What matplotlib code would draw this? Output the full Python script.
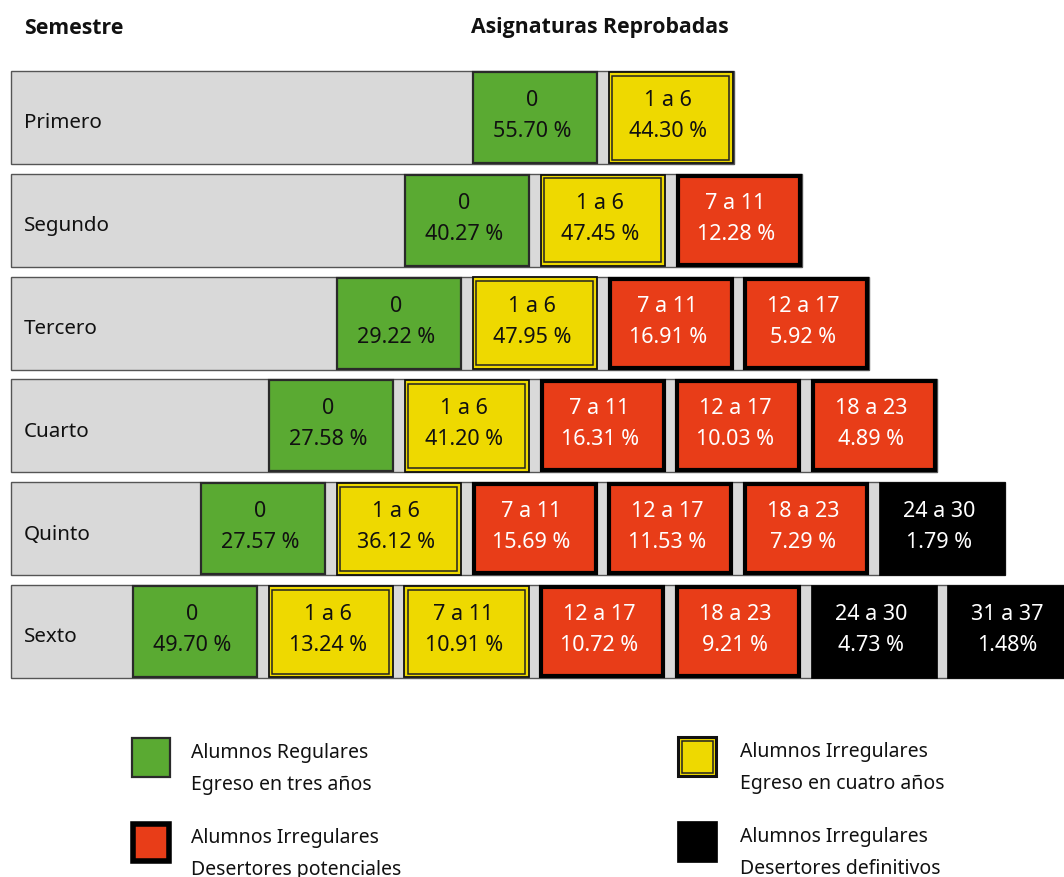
import matplotlib
matplotlib.use("Agg")
import matplotlib.pyplot as plt
from matplotlib.patches import Rectangle

# ---------------- data ----------------
semestres = ["Primero", "Segundo", "Tercero", "Cuarto", "Quinto", "Sexto"]
rangos = ["0", "1 a 6", "7 a 11", "12 a 17", "18 a 23", "24 a 30", "31 a 37"]
porcentajes = [
    [55.70, 44.30],
    [40.27, 47.45, 12.28],
    [29.22, 47.95, 16.91, 5.92],
    [27.58, 41.20, 16.31, 10.03, 4.89],
    [27.57, 36.12, 15.69, 11.53, 7.29, 1.79],
    [49.70, 13.24, 10.91, 10.72, 9.21, 4.73, 1.48],
]
# G = regulares, Y = egreso cuatro años, R = desertores potenciales, K = desertores definitivos
categorias = [
    ["G", "Y"],
    ["G", "Y", "R"],
    ["G", "Y", "R", "R"],
    ["G", "Y", "R", "R", "R"],
    ["G", "Y", "R", "R", "R", "K"],
    ["G", "Y", "Y", "R", "R", "K", "K"],
]
leyenda_cat = ["G", "Y", "R", "K"]
leyenda_txt = [
    ("Alumnos Regulares", "Egreso en tres años"),
    ("Alumnos Irregulares", "Egreso en cuatro años"),
    ("Alumnos Irregulares", "Desertores potenciales"),
    ("Alumnos Irregulares", "Desertores definitivos"),
]

# ---------------- style ----------------
FILL = {"G": "#5aaa32", "Y": "#eed900", "R": "#e83d18", "K": "#000000"}
TXT = {"G": "#111111", "Y": "#111111", "R": "white", "K": "white"}
GREY = "#d9d9d9"
FONT = ["Noto Sans", "DejaVu Sans"]
BFONT = ["Open Sans", "DejaVu Sans"]
FS_LEG = 14.0
FS_ROW = 14.8
FS_BOX = 15.5
FS_HEAD = 15.3

W, H = 1064, 878
fig = plt.figure(figsize=(W / 100, H / 100), dpi=100)
ax = fig.add_axes([0, 0, 1, 1])
ax.set_xlim(0, W)
ax.set_ylim(H, 0)
ax.axis("off")

row_top0, row_pitch, row_h = 72, 102.8, 93
box_w, box_pitch = 126, 135.8
x_grey = 11
x_green0, x_shift = 472, 68


def draw_box(x, y, w, h, cat, thick=3.0, ythick=1.3):
    if cat == "G":
        ax.add_patch(Rectangle((x + 1, y + 1), w - 2, h - 2, facecolor=FILL[cat],
                               edgecolor="#2a2a2a", lw=1.6, zorder=3))
    elif cat == "Y":
        ax.add_patch(Rectangle((x + 0.7, y + 0.7), w - 1.4, h - 1.4, facecolor=FILL[cat],
                               edgecolor="#111111", lw=ythick, zorder=3))
        ax.add_patch(Rectangle((x + 4.5, y + 4.5), w - 9, h - 9, facecolor="none",
                               edgecolor="#222222", lw=1.1, zorder=4))
    elif cat == "R":
        ax.add_patch(Rectangle((x + 2, y + 2), w - 4, h - 4, facecolor=FILL[cat],
                               edgecolor="black", lw=thick, zorder=3))
    else:
        ax.add_patch(Rectangle((x, y), w, h, facecolor=FILL[cat],
                               edgecolor="black", lw=0.5, zorder=3))


for i, (sem, vals, cats) in enumerate(zip(semestres, porcentajes, categorias)):
    top = row_top0 + i * row_pitch
    x0 = x_green0 - i * x_shift
    n = len(vals)
    x_end = min(x0 + (n - 1) * box_pitch + box_w, W + 20)
    ax.add_patch(Rectangle((x_grey, top), x_end - x_grey, row_h, facecolor=GREY,
                           edgecolor="#555555", lw=1.0, zorder=1))
    ax.text(24, top + row_h / 2 + 5, sem, fontsize=FS_ROW, family=FONT, ha="left",
            va="center", color="#111111", zorder=5)
    for j, (v, c) in enumerate(zip(vals, cats)):
        bx = x0 + j * box_pitch
        draw_box(bx, top, box_w, row_h, c)
        cx = bx + box_w / 2 - 3
        sep = "" if (i == len(semestres) - 1 and j == n - 1) else " "
        ax.text(cx, top + row_h / 2 - 18, rangos[j], fontsize=FS_BOX, family=FONT,
                ha="center", va="center", color=TXT[c], zorder=6)
        ax.text(cx, top + row_h / 2 + 13, f"{v:.2f}{sep}%", fontsize=FS_BOX, family=FONT,
                ha="center", va="center", color=TXT[c], zorder=6)

# headers
ax.text(24, 28, "Semestre", fontsize=FS_HEAD, family=BFONT, weight="bold",
        ha="left", va="center", color="#111111")
ax.text(600, 28, "Asignaturas Reprobadas", fontsize=FS_HEAD, family=BFONT, weight="bold",
        ha="center", va="center", color="#111111")

# legend
leg_pos = [(131, 738), (677, 737), (131, 823), (677, 822)]
leg_txt_x = [191, 740, 191, 740]
for (lx, ly), tx, c, (t1, t2) in zip(leg_pos, leg_txt_x, leyenda_cat, leyenda_txt):
    draw_box(lx, ly, 40, 41, c, thick=4.0, ythick=2.2)
    ax.text(tx, ly + 15, t1, fontsize=FS_LEG, family=FONT, ha="left",
            va="center", color="#111111")
    ax.text(tx, ly + 47, t2, fontsize=FS_LEG, family=FONT, ha="left",
            va="center", color="#111111")

fig.savefig("out.png", dpi=100, facecolor="white")
